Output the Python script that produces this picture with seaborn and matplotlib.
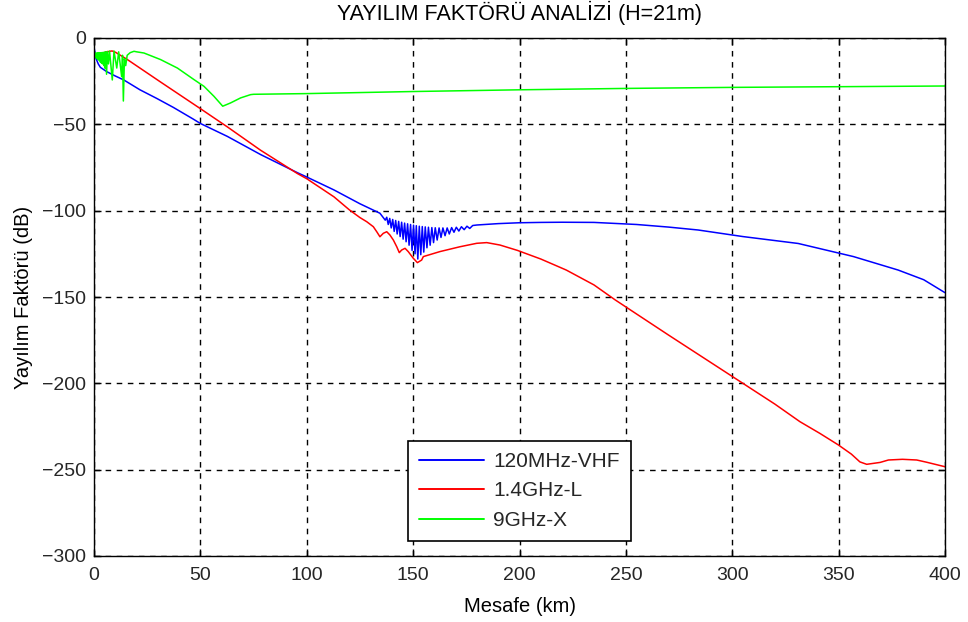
import matplotlib
matplotlib.use("Agg")
import matplotlib.pyplot as plt
import seaborn as sns
import pandas as pd

# ---------------- data ----------------
vhf_km = [0, 0.5, 1, 2, 3, 6, 10, 14, 21.6, 29.5, 37.3, 46.7, 50, 62.7, 78.3, 95.6, 100, 112.8, 125, 134.4,
          136.9, 137.6, 138.3, 139.0, 139.7, 140.4, 141.1, 141.8, 142.5, 143.2, 143.9, 144.6, 145.3, 146.0,
          146.7, 147.4, 148.1, 148.8, 149.5, 150.2, 150.9, 151.5, 152.2, 152.9, 153.6, 154.3, 155.0, 155.7,
          156.5, 157.2, 158.0, 158.8, 159.6, 160.4, 161.3, 162.2, 163.1, 164.0, 165.0, 166.0, 167.0, 168.1,
          169.2, 170.3, 171.5, 172.7, 174.0, 175.3, 176.6, 178,
          180, 190, 200, 210, 220, 235, 255, 270, 284, 305, 331, 357, 378, 390, 400]
vhf_db = [-5, -9, -12, -15, -17, -19.5, -22, -24.3, -30, -35, -40.2, -47, -49.5, -57, -67.5, -78, -80.5, -88, -96, -101.5,
          -105.5, -103.8, -108, -104.5, -110, -105.1, -112, -105.7, -113.5, -106.2, -115, -106.7, -116.5, -107.2,
          -118, -107.6, -120, -108, -123, -108.4, -125, -108.7, -128, -109, -125.5, -109.2, -124, -109.4,
          -121.5, -109.6, -120, -109.8, -118.5, -109.9, -117, -110, -115.5, -110, -114.5, -110, -113.5, -109.8,
          -112.5, -109.6, -111.8, -109.3, -111, -109, -110.3, -108.6,
          -108.3, -107.5, -107, -106.8, -106.7, -106.8, -108, -109.5, -111.2, -115, -119, -126.6, -134.4, -140, -147.5]

l_km = [0, 2, 4, 6, 8.5, 10, 15.7, 31.3, 49.5, 62.7, 78.3, 95.6, 100, 112.8, 120, 125, 128.2, 131.3, 132.9,
        134.4, 136, 137.6, 139.1, 140.7, 142.3, 143.5, 144.6, 146.2, 147.7, 150.1, 152, 154, 154.8, 162.6,
        172, 179.9, 184.6, 190.8, 199, 210, 222, 235, 245, 270, 300, 320, 331.8, 341.2, 349.9, 356, 360,
        363.2, 369.5, 373.4, 380, 386.7, 391.4, 400]
l_db = [-10.5, -9.5, -8.7, -8, -7.5, -8.2, -12.5, -25.5, -40.5, -51.5, -65, -78.5, -81.5, -92, -99.5, -104, -106.4, -109.3, -112.2,
        -115.1, -113.1, -112.2, -114.1, -117, -120.9, -124.3, -122.8, -121.8, -123.7, -127.6, -130.1, -128.6, -126.6, -123.7,
        -120.9, -118.9, -118.5, -119.9, -123, -128, -134.4, -143, -151.7, -172, -196, -212, -222.2, -229, -235.7, -241, -245.5,
        -246.9, -245.8, -244.4, -244, -244.4, -245.7, -248.3]

x_km = [0.0, 0.25, 0.5, 0.75, 1.0, 1.25, 1.5, 1.75, 2.0, 2.25, 2.5, 2.75, 3.0, 3.25, 3.5, 3.75, 4.0, 4.3, 4.6, 4.9,
        5.2, 5.5, 5.9, 6.3, 6.8, 7.3, 8.6, 9.4, 10.7, 11.6, 13.0, 13.4, 13.8, 14.3, 14.9, 15.6, 17, 18.8,
        20, 23.5, 31.3, 39.2, 47, 51.7, 56.4, 60.5, 64.2, 68.9, 73.6, 75, 100, 150, 200, 250, 300, 350, 400]
x_db = [-10.5, -8.7, -11, -8.7, -11.5, -8.7, -12, -8.6, -12.5, -8.6, -13, -8.5, -14, -8.5, -14.5, -8.4, -15, -8.3, -16, -8.2,
        -17.5, -8, -21, -7.8, -15, -7.6, -24.3, -7.5, -17.4, -8, -22.4, -10, -36.5, -12, -16, -10, -8.5, -7.7,
        -8, -8.7, -12.5, -17.4, -24.1, -28, -33.8, -39.5, -37.6, -34.7, -32.8, -32.6, -32.2, -31, -30, -29.2, -28.6, -28.2, -27.8]

series_names = ["120MHz-VHF", "1.4GHz-L", "9GHz-X"]
title_text = "YAYILIM FAKTÖRÜ ANALİZİ (H=21m)"
xlabel_text = "Mesafe (km)"
ylabel_text = "Yayılım Faktörü (dB)"
x_ticks = [0, 50, 100, 150, 200, 250, 300, 350, 400]
y_ticks = [-300, -250, -200, -150, -100, -50, 0]

# ---------------- plot ----------------
sns.set_theme(style="white")
plt.rcParams["font.family"] = ["Liberation Sans", "DejaVu Sans"]

fig = plt.figure(figsize=(9.68, 6.22), dpi=100)
ax = fig.add_axes([94 / 968, 1 - 556 / 622, 851 / 968, 518 / 622])

frames = [
    pd.DataFrame({"km": vhf_km, "db": vhf_db, "s": series_names[0]}),
    pd.DataFrame({"km": l_km, "db": l_db, "s": series_names[1]}),
    pd.DataFrame({"km": x_km, "db": x_db, "s": series_names[2]}),
]
df = pd.concat(frames, ignore_index=True)
palette = {series_names[0]: "#0000ff", series_names[1]: "#ff0000", series_names[2]: "#00ff00"}
sns.lineplot(data=df, x="km", y="db", hue="s", palette=palette, sort=False, estimator=None,
             units="s", linewidth=1.1, ax=ax, legend=True)

ax.set_xlim(0, 400)
ax.set_ylim(-300, 0)
ax.set_xticks(x_ticks)
ax.set_yticks(y_ticks)
ax.set_xticklabels([str(t) for t in x_ticks])
ax.set_yticklabels([str(t).replace("-", "\u2212") for t in y_ticks])
ax.tick_params(direction="in", length=5, width=1, color="black", labelsize=14,
               top=True, right=True, bottom=True, left=True)
ax.tick_params(axis="x", pad=8)
ax.tick_params(axis="y", pad=6)
ax.grid(True, color="black", linestyle=(0, (4, 4)), linewidth=1)
for sp in ax.spines.values():
    sp.set_color("black")
    sp.set_linewidth(1)
ax.set_title(title_text, fontsize=15.5, pad=13, color="black")
ax.set_xlabel(xlabel_text, fontsize=14.5, labelpad=9, color="black")
ax.set_ylabel(ylabel_text, fontsize=14.5, labelpad=6, color="black")

leg = ax.legend(loc="center", bbox_to_anchor=(0.5, 0.1255), fontsize=15, frameon=True,
                fancybox=False, framealpha=1, edgecolor="black", handlelength=3.1,
                borderpad=0.55, labelspacing=0.5, handletextpad=0.45)
leg.get_frame().set_linewidth(1.2)
for line in leg.get_lines():
    line.set_linewidth(1.4)

fig.savefig("out.png", dpi=100, facecolor="white")
